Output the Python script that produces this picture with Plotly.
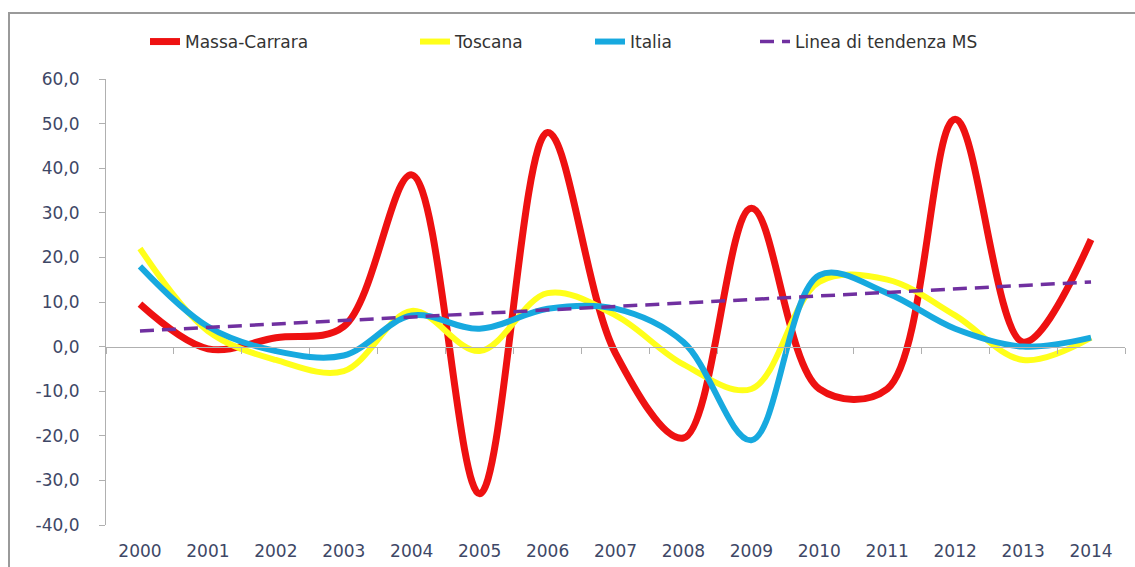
import plotly.graph_objects as go

# Annual values 2000-2014
anni = ["2000", "2001", "2002", "2003", "2004", "2005", "2006", "2007",
        "2008", "2009", "2010", "2011", "2012", "2013", "2014"]
massa_carrara = [9.5, -0.5, 2.0, 4.5, 38.5, -33.0, 48.0, -1.5,
                 -20.5, 31.0, -9.5, -9.5, 51.0, 1.0, 24.0]
toscana = [22.0, 3.5, -3.0, -5.5, 8.0, -1.0, 12.0, 7.0,
           -4.0, -9.5, 14.5, 15.0, 7.0, -3.0, 2.0]
italia = [18.0, 4.5, -1.0, -2.0, 7.0, 4.0, 8.5, 8.5,
          1.0, -21.0, 16.0, 12.0, 4.0, 0.0, 2.0]
# Linear trend of Massa-Carrara (start / end values)
trend_start, trend_end = 3.5, 14.5

yticks = [-40, -30, -20, -10, 0, 10, 20, 30, 40, 50, 60]
ytick_text = [f"{v:.1f}".replace(".", ",") for v in yticks]

n = len(anni)
xs = list(range(n))
trend = [trend_start + (trend_end - trend_start) * i / (n - 1) for i in xs]

W, H = 1135, 567
ML, MR, MT, MB = 106, 10, 79, 42
pw = W - ML - MR
ph = H - MT - MB

FONT = "DejaVu Sans"
TXT = "#3e4766"
AX = "#b0b0b0"

series = [
    ("Massa-Carrara", massa_carrara, dict(color="#ee1111", width=7, shape="spline", smoothing=1), "x", 145),
    ("Toscana", toscana, dict(color="#ffff1a", width=6, shape="spline", smoothing=1), "x", 415),
    ("Italia", italia, dict(color="#17a9df", width=6, shape="spline", smoothing=1), "x", 590),
    ("Linea di tendenza MS", trend, dict(color="#7030a0", width=3.5, dash="14px,8px"), "x2", 755),
]

fig = go.Figure()
legend_y = (H - 42 - MB) / ph
legends = {}
for i, (name, vals, line, xa, lx) in enumerate(series):
    key = "legend" if i == 0 else f"legend{i + 1}"
    fig.add_trace(go.Scatter(x=xs, y=vals, name=name, mode="lines", line=line,
                             xaxis=xa, legend=key))
    legends[key] = dict(orientation="h", x=(lx - ML) / pw, xanchor="left",
                        y=legend_y, yanchor="middle",
                        font=dict(family=FONT, size=17, color="#333333"),
                        bgcolor="rgba(0,0,0,0)")

# outer chart frame (left and top edges visible)
fx0 = (9 - ML) / pw
fx1 = (W + 20 - ML) / pw
fy1 = (H - 13 - MB) / ph
fy0 = (-20 - MB) / ph

fig.update_layout(
    width=W, height=H,
    margin=dict(l=ML, r=MR, t=MT, b=MB, autoexpand=False),
    paper_bgcolor="white", plot_bgcolor="white",
    font=dict(family=FONT, size=17, color=TXT),
    showlegend=True,
    **legends,
    xaxis=dict(range=[-0.5, n - 0.5], tickmode="array", tickvals=xs, ticktext=anni,
               showgrid=False, zeroline=False, showline=False, ticks="", automargin=False,
               tickfont=dict(family=FONT, size=17, color=TXT), ticklabelstandoff=14),
    # horizontal axis crossing at zero, with tick marks between categories
    xaxis2=dict(overlaying="x", anchor="free", position=0.4, side="bottom",
                range=[-0.5, n - 0.5], tickmode="array",
                tickvals=[i - 0.5 for i in range(n + 1)], automargin=False,
                showticklabels=False, ticks="outside", ticklen=6, tickcolor=AX,
                showline=True, linecolor=AX, linewidth=1,
                showgrid=False, zeroline=False),
    yaxis=dict(range=[-40, 60], tickmode="array", tickvals=yticks, ticktext=ytick_text,
               showgrid=False, zeroline=False, showline=True, linecolor=AX, automargin=False,
               ticks="outside", ticklen=6, tickcolor=AX, ticklabelstandoff=16,
               tickfont=dict(family=FONT, size=17, color=TXT)),
    shapes=[dict(type="rect", xref="paper", yref="paper", x0=fx0, x1=fx1, y0=fy0, y1=fy1,
                 line=dict(color="#9a9a9a", width=2), layer="below")],
)

fig.write_html("out.html")
